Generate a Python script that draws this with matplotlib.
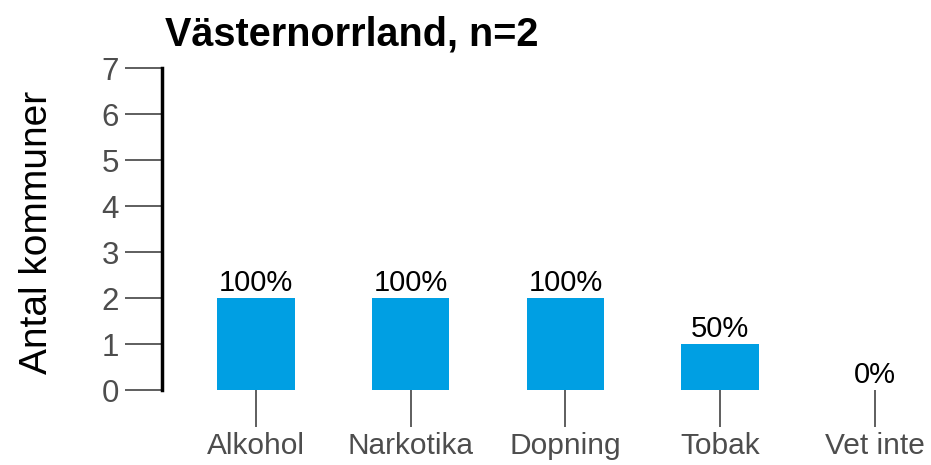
import numpy as np
import matplotlib.pyplot as plt

plt.rcParams['font.family'] = ['Liberation Sans', 'DejaVu Sans']

# ================================================
# DATA
# ================================================
region   = 'Västernorrland'
n_total  = 2
kategori = ['Alkohol', 'Narkotika', 'Dopning', 'Tobak', 'Vet inte']
antal    = [2, 2, 2, 1, 0]
andel    = [100, 100, 100, 50, 0]   # percent of municipalities

blue = '#009FE3'
grey = '#4D4D4D'

fig = plt.figure(figsize=(9.31, 4.65), dpi=100)
ax = fig.add_axes([162/931, 75/465, 1 - 162/931, 322/465])

x = np.arange(len(kategori))
bars = ax.bar(x, antal, width=0.5, color=blue, zorder=2)
for xi, v, p in zip(x, antal, andel):
    ax.annotate(f'{p}%', (xi, v), xytext=(0, 1), textcoords='offset points',
                ha='center', va='bottom', fontsize=21, color='black')

ax.set_xlim(-0.608, 4.363)
ax.set_ylim(0, 7)
ax.set_yticks(range(8))
ax.set_xticks(x)
ax.set_xticklabels(kategori)

for s in ['top', 'right', 'bottom']:
    ax.spines[s].set_visible(False)
ax.spines['left'].set_linewidth(2.5)
ax.spines['left'].set_color('black')

ax.tick_params(axis='y', length=27, width=1.1, color='#333333', pad=4,
               labelsize=22.5, labelcolor=grey)
ax.tick_params(axis='x', length=26.5, width=1.1, color='#333333', pad=4,
               labelsize=21.5, labelcolor=grey)

fig.text(165/931, (465-45)/465, f'{region}, n={n_total}', fontsize=28.5,
         fontweight='bold', ha='left', va='baseline')
fig.text(37/931, (465-232)/465, 'Antal kommuner', fontsize=28, rotation=90,
         ha='center', va='center')

plt.savefig('out.png', dpi=100)
plt.close()
